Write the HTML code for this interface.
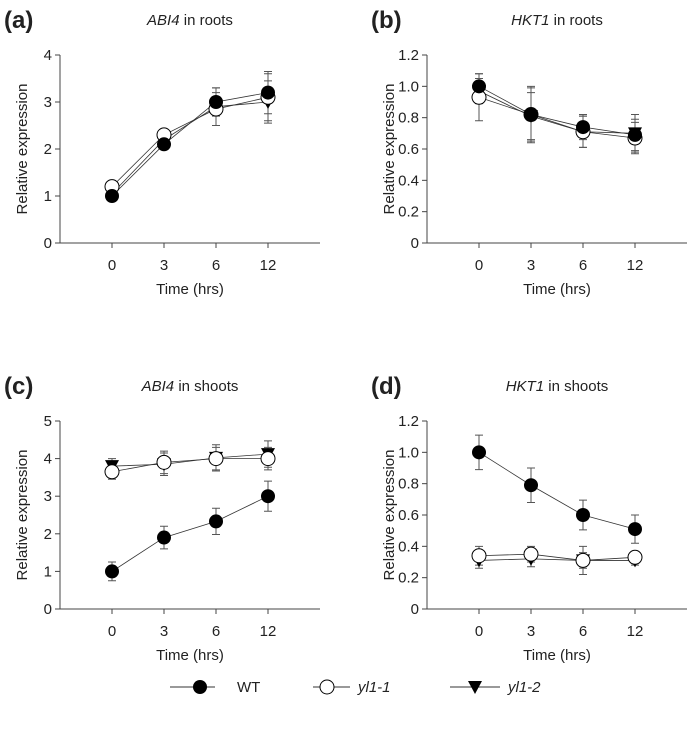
<!DOCTYPE html>
<html><head><meta charset="utf-8"><style>
body{margin:0;background:#fff;font-family:"Liberation Sans",Arial,sans-serif;}
svg text{font-family:"Liberation Sans",Arial,sans-serif;fill:#222;}
</style></head><body>
<svg id="chart" width="697" height="729" viewBox="0 0 697 729" xmlns="http://www.w3.org/2000/svg"></svg>
<script>
const categories = ["0","3","6","12"];
const aWT=[1.0,2.1,3.0,3.2], aWTe=[0.05,0.1,0.3,0.45];
const aY1=[1.2,2.3,2.85,3.1], aY1e=[0.05,0.08,0.35,0.5];
const aY2=[1.05,2.2,2.9,3.0], aY2e=[0.05,0.08,0.4,0.45];
const bWT=[1.0,0.82,0.74,0.69], bWTe=[0.08,0.18,0.08,0.1];
const bY1=[0.93,0.82,0.71,0.67], bY1e=[0.15,0.17,0.1,0.1];
const bY2=[0.97,0.81,0.71,0.70], bY2e=[0.08,0.15,0.1,0.12];
const cWT=[1.0,1.9,2.33,3.0], cWTe=[0.25,0.3,0.35,0.4];
const cY1=[3.65,3.9,4.0,4.0], cY1e=[0.2,0.3,0.3,0.3];
const cY2=[3.8,3.85,4.02,4.12], cY2e=[0.2,0.3,0.35,0.35];
const dWT=[1.0,0.79,0.6,0.51], dWTe=[0.11,0.11,0.095,0.09];
const dY1=[0.34,0.35,0.31,0.33], dY1e=[0.06,0.05,0.09,0.02];
const dY2=[0.31,0.32,0.31,0.31], dY2e=[0.05,0.05,0.05,0.03];
const ticksA=[0,1,2,3,4], ticksB=[0,0.2,0.4,0.6,0.8,1.0,1.2], ticksC=[0,1,2,3,4,5];
const labB=["0","0.2","0.4","0.6","0.8","1.0","1.2"];

const NS="http://www.w3.org/2000/svg";
const svg=document.getElementById('chart');
function mk(tag,attrs,parent){const e=document.createElementNS(NS,tag);for(const k in attrs)e.setAttribute(k,attrs[k]);(parent||svg).appendChild(e);return e;}

const panels=[
 {id:'a',ox:0,oy:0,max:4,ticks:ticksA,lab:ticksA.map(String),gene:'ABI4',part:' in roots',s:[[aWT,aWTe],[aY1,aY1e],[aY2,aY2e]]},
 {id:'b',ox:367,oy:0,max:1.2,ticks:ticksB,lab:labB,gene:'HKT1',part:' in roots',s:[[bWT,bWTe],[bY1,bY1e],[bY2,bY2e]]},
 {id:'c',ox:0,oy:366,max:5,ticks:ticksC,lab:ticksC.map(String),gene:'ABI4',part:' in shoots',s:[[cWT,cWTe],[cY1,cY1e],[cY2,cY2e]]},
 {id:'d',ox:367,oy:366,max:1.2,ticks:ticksB,lab:labB,gene:'HKT1',part:' in shoots',s:[[dWT,dWTe],[dY1,dY1e],[dY2,dY2e]]}
];
function marker(g,type,x,y){
  let m;
  if(type===0){m=mk('circle',{cx:x,cy:y,r:7,fill:'#000'},g);}
  else if(type===1){m=mk('circle',{cx:x,cy:y,r:7,fill:'#fff',stroke:'#000','stroke-width':1},g);}
  else {m=mk('path',{d:`M${x-7} ${y-6}L${x+7} ${y-6}L${x} ${y+7}Z`,fill:'#000'},g);}
  
  
}
panels.forEach(p=>{
  const g=mk('g',{transform:`translate(${p.ox},${p.oy})`});
  
  
  const L=60,T=55,B=243,R=320;
  const xs=i=>112+52*i, ys=v=>B-(v/p.max)*(B-T);
  let t=mk('text',{x:4,y:28,'font-size':24,'font-weight':'bold'},g);t.textContent='('+p.id+')';
  
  t=mk('text',{x:190,y:25,'font-size':15,'text-anchor':'middle'},g);
  const ts=mk('tspan',{'font-style':'italic'},t);ts.textContent=p.gene;
  const ts2=mk('tspan',{},t);ts2.textContent=p.part;
  
  let ax=mk('path',{d:`M${L} ${T}V${B}H${R}`,fill:'none',stroke:'#444','stroke-width':1},g);
  
  p.ticks.forEach((v,i)=>{
    mk('line',{x1:L-5,x2:L,y1:ys(v),y2:ys(v),stroke:'#444'},g);
    const tt=mk('text',{x:L-8,y:ys(v)+5,'font-size':15,'text-anchor':'end'},g);tt.textContent=p.lab[i];
    
  });
  categories.forEach((c,i)=>{
    mk('line',{x1:xs(i),x2:xs(i),y1:B,y2:B+5,stroke:'#444'},g);
    const tt=mk('text',{x:xs(i),y:B+27,'font-size':15,'text-anchor':'middle'},g);tt.textContent=c;
    
  });
  t=mk('text',{x:190,y:B+51,'font-size':15,'text-anchor':'middle'},g);t.textContent='Time (hrs)';
  
  t=mk('text',{x:0,y:0,'font-size':15,'text-anchor':'middle',transform:`translate(${L-33},${(T+B)/2}) rotate(-90)`},g);t.textContent='Relative expression';
  
  p.s.forEach((s,si)=>{
    const [vals,errs]=s;
    const ln=mk('polyline',{points:vals.map((v,i)=>xs(i)+','+ys(v)).join(' '),fill:'none',stroke:'#333','stroke-width':0.8},g);
    
    vals.forEach((v,i)=>{
      const x=xs(i),y1=ys(v+errs[i]),y2=ys(v-errs[i]);
      const eb=mk('path',{d:`M${x} ${y1}V${y2}M${x-4} ${y1}H${x+4}M${x-4} ${y2}H${x+4}`,stroke:'#555','stroke-width':1,fill:'none'},g);
      
    });
  });
  for(let si=p.s.length-1;si>=0;si--){p.s[si][0].forEach((v,i)=>marker(g,si,xs(i),ys(v)));}
});
const lg=mk('g',{});

[[170,215,200,'WT',false,0],[313,350,327,'yl1-1',true,1],[450,500,475,'yl1-2',true,2]].forEach(e=>{
  const en=mk('g',{},lg);
  
  mk('line',{x1:e[0],x2:e[1],y1:687,y2:687,stroke:'#333'},en);
  marker(en,e[5],e[2],687);
  const t=mk('text',{x:e[1]+(e[5]===0?22:8),y:692,'font-size':15,'font-style':e[4]?'italic':'normal'},en);t.textContent=e[3];
});
</script>
</body></html>
